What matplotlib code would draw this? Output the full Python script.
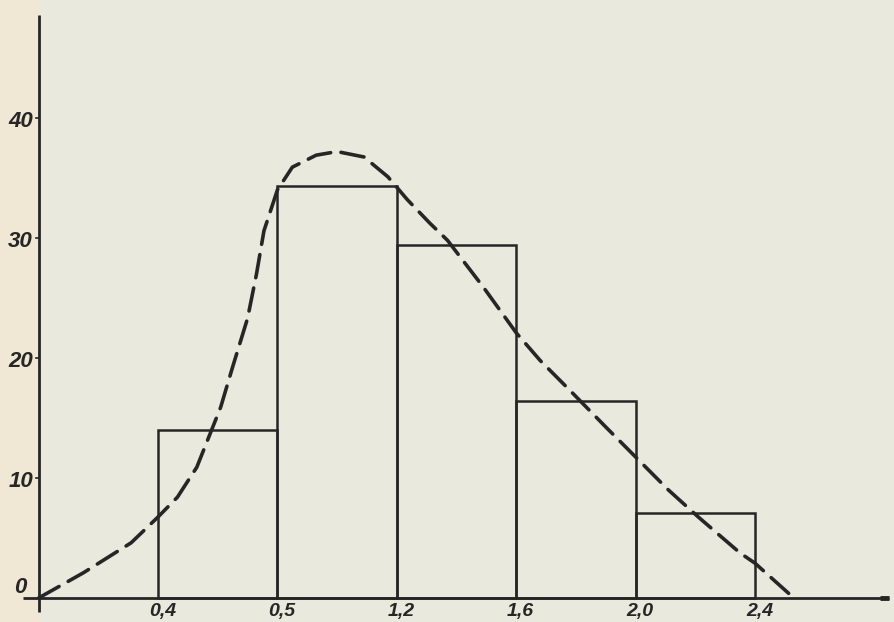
import matplotlib.pyplot as plt

# histogram classes (edges) and heights
BIN_EDGES = [0.4, 0.8, 1.2, 1.6, 2.0, 2.4]
BAR_HEIGHTS = [14.0, 34.3, 29.4, 16.4, 7.1]
X_TICK_LABELS = ["0,4", "0,5", "1,2", "1,6", "2,0", "2,4"]
Y_TICKS = [0, 10, 20, 30, 40]

# dashed fitted curve
CURVE_X = [0.0, 0.15, 0.31, 0.40, 0.465, 0.53, 0.57, 0.61, 0.65, 0.70, 0.73, 0.755,
           0.80, 0.85, 0.93, 1.00, 1.09, 1.17, 1.235, 1.31, 1.37, 1.49, 1.545, 1.60,
           1.68, 1.78, 1.90, 2.00, 2.11, 2.21, 2.35, 2.40, 2.53]
CURVE_Y = [0.0, 2.1, 4.6, 6.75, 8.4, 10.9, 13.4, 15.9, 19.25, 23.3, 27.0, 30.6,
           34.0, 35.9, 36.9, 37.2, 36.75, 35.1, 33.2, 31.25, 29.8, 25.9, 24.0, 22.1,
           19.8, 17.3, 14.25, 11.75, 9.0, 6.75, 3.75, 2.9, 0.0]

INK = "#262626"
PAPER = "#eae9dd"
font = dict(family=["Liberation Sans", "DejaVu Sans"], fontweight="bold",
            fontstyle="italic", fontsize=16, color=INK)

fig = plt.figure(figsize=(8.95, 6.22), dpi=100)
fig.patch.set_facecolor(PAPER)
ax = fig.add_axes([0, 0, 1, 1])
ax.set_facecolor(PAPER)
ax.set_xlim(-0.1293, 2.869)
ax.set_ylim(-2.0, 49.83)
ax.axis("off")

# slightly warmer margin left of the y axis
ax.axvspan(-0.1293, 0, color="#f0e8d5", lw=0, zorder=0)

# axes drawn by hand like the original sketch
ax.plot([-0.052, 2.85], [0, 0], color=INK, lw=2.0, solid_capstyle="butt", zorder=3)
ax.plot([2.82, 2.85], [0, 0], color=INK, lw=3.5, solid_capstyle="butt", zorder=3)
ax.plot([0, 0], [-1.2, 48.6], color=INK, lw=2.0, solid_capstyle="butt", zorder=3)

widths = [b - a for a, b in zip(BIN_EDGES[:-1], BIN_EDGES[1:])]
ax.bar(BIN_EDGES[:-1], BAR_HEIGHTS, width=widths, align="edge", fill=False,
       edgecolor=INK, linewidth=1.8, zorder=2)

ax.plot(CURVE_X, CURVE_Y, color=INK, lw=2.6, linestyle=(0, (6.5, 2.9)),
        dash_capstyle="round", zorder=4)

for v in Y_TICKS:
    dy = 0.9 if v == 0 else -0.3
    ax.text(-0.06, v + dy, str(v), ha="center", va="center", **font)
    if v:
        ax.plot([-0.008, 0], [v, v], color=INK, lw=1.2, zorder=3)

for x, lab in zip(BIN_EDGES, X_TICK_LABELS):
    ax.text(x + 0.015, -1.1, lab, ha="center", va="center",
            **{**font, "fontsize": 14})

fig.savefig("out.png", dpi=100, facecolor=PAPER)
